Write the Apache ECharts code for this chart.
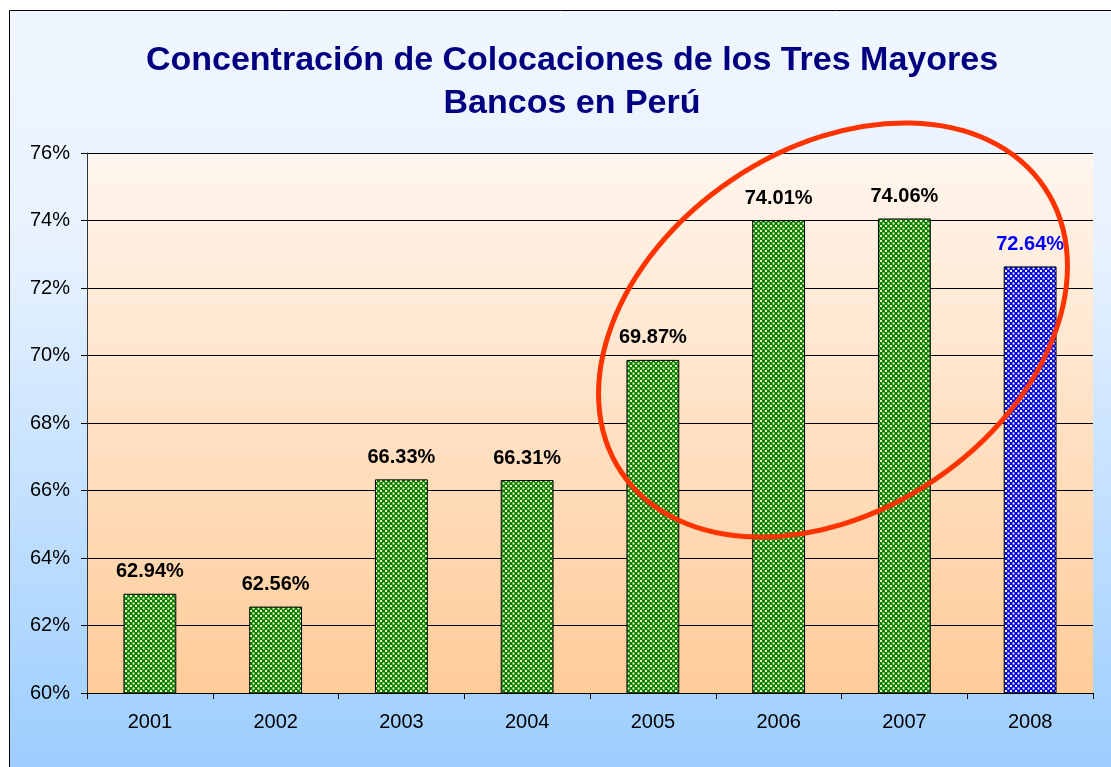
<!DOCTYPE html>
<html>
<head>
<meta charset="utf-8">
<script src="https://cdn.jsdelivr.net/npm/echarts@6/dist/echarts.min.js"></script>
<style>
  html, body { margin: 0; padding: 0; background: #ffffff; }
  #chart { width: 1111px; height: 767px; }
</style>
</head>
<body>
<div id="chart"></div>
<script>
// Datos del grafico
const years = ["2001", "2002", "2003", "2004", "2005", "2006", "2007", "2008"]
const shares = [62.94, 62.56, 66.33, 66.31, 69.87, 74.01, 74.06, 72.64]
const highlightYear = "2008"

// Small checkerboard fill, like the Excel pattern
function checker(color, light) {
    const c = document.createElement("canvas")
    c.width = 5
    c.height = 5
    const ctx = c.getContext("2d")
    ctx.fillStyle = color
    ctx.fillRect(0, 0, 5, 5)
    ctx.fillStyle = light
    ctx.fillRect(0, 0, 2, 2)
    ctx.fillRect(2.5, 2.5, 2, 2)
    return { image: c, repeat: "repeat" }
}

document.addEventListener("DOMContentLoaded", () => {
    const chart = echarts.init(document.getElementById("chart"))
    const greenFill = checker("#008000", "#ffffcc")
    const blueFill = checker("#0000ff", "#ffffcc")

    const barData = shares.map((v, i) => {
        const hl = years[i] === highlightYear
        return {
            value: v,
            itemStyle: { color: hl ? blueFill : greenFill },
            label: { color: hl ? "#0000ff" : "#000000" },
        }
    })

    const option = {
        animation: false,
        title: {
            text: "Concentración de Colocaciones de los Tres Mayores\nBancos en Perú",
            left: 567,
            top: 34,
            textAlign: "center",
            textStyle: {
                fontFamily: "Liberation Sans",
                fontSize: 34,
                fontWeight: "bold",
                color: "#000080",
                lineHeight: 43,
            },
        },
        graphic: [
            {
                type: "rect",
                z: -10,
                silent: true,
                shape: { x: 9.5, y: 10.5, width: 1120, height: 780 },
                style: {
                    fill: new echarts.graphic.LinearGradient(0, 0, 0, 1, [
                        { offset: 0, color: "#f0f6ff" },
                        { offset: 0.3, color: "#e8f2ff" },
                        { offset: 1, color: "#99ccff" },
                    ]),
                    stroke: "#000000",
                    lineWidth: 1,
                },
            },
            {
                type: "ellipse",
                z: 100,
                silent: true,
                x: 833,
                y: 330,
                rotation: 0.593,
                shape: { cx: 0, cy: 0, rx: 255, ry: 181 },
                style: { fill: null, stroke: "#ff3300", lineWidth: 5 },
            },
        ],
        grid: {
            left: 87,
            right: 18,
            top: 153,
            bottom: 74,
            show: true,
            borderWidth: 0,
            backgroundColor: new echarts.graphic.LinearGradient(0, 0, 0, 1, [
                { offset: 0, color: "#fff6ee" },
                { offset: 1, color: "#ffcc99" },
            ]),
        },
        xAxis: {
            type: "category",
            data: years,
            axisLine: { lineStyle: { color: "#000000", width: 1 } },
            axisTick: { show: true, length: 6, lineStyle: { color: "#000000" } },
            axisLabel: {
                color: "#000000",
                fontFamily: "Liberation Sans",
                fontSize: 20,
                margin: 19,
            },
        },
        yAxis: {
            type: "value",
            min: 60,
            max: 76,
            interval: 2,
            axisLine: { show: true, lineStyle: { color: "#333333", width: 1 } },
            axisTick: { show: true, length: 6, lineStyle: { color: "#000000" } },
            axisLabel: {
                formatter: "{value}%",
                color: "#000000",
                fontFamily: "Liberation Sans",
                fontSize: 20,
                margin: 17,
            },
            splitLine: { lineStyle: { color: "#000000", width: 1 } },
        },
        series: [
            {
                type: "bar",
                data: barData,
                barWidth: "42%",
                itemStyle: { borderColor: "#000000", borderWidth: 1 },
                label: {
                    show: true,
                    position: "top",
                    distance: 12,
                    formatter: (p) => p.value.toFixed(2) + "%",
                    fontFamily: "Liberation Sans",
                    fontSize: 20,
                    fontWeight: "bold",
                },
            },
        ],
    }

    chart.setOption(option)

    window.addEventListener("resize", () => {
        chart.resize()
    })
})
</script>
</body>
</html>
